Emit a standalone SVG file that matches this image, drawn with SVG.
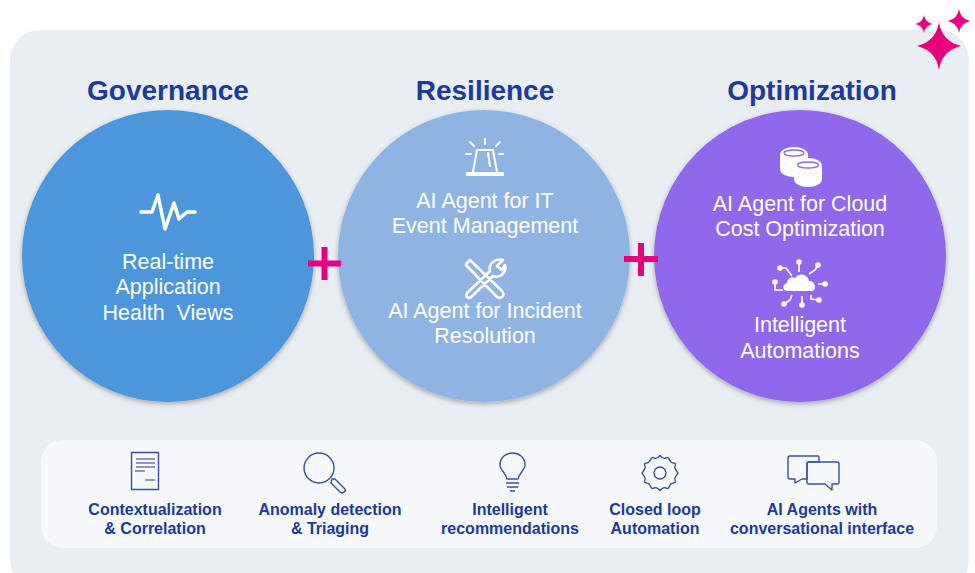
<svg xmlns="http://www.w3.org/2000/svg" width="975" height="573" viewBox="0 0 975 573">
<defs>
<style>
text{font-family:"Liberation Sans",Arial,sans-serif;text-anchor:middle}
.h{font-size:28px;font-weight:700;fill:#20399a}
.w{font-size:21.5px;fill:#fff}
.b{font-size:16px;font-weight:700;fill:#20399a}
.iw{fill:none;stroke:#fff;stroke-width:2.6;stroke-linecap:round;stroke-linejoin:round}
.ib{fill:none;stroke:#3550a8;stroke-width:1.4;stroke-linejoin:round}
.plus{fill:#e6007e}
</style>
<filter id="sh" x="-10%" y="-10%" width="120%" height="120%"><feDropShadow dx="0" dy="2" stdDeviation="2.5" flood-color="#000" flood-opacity=".3"/></filter>
<filter id="soft"><feGaussianBlur stdDeviation=".7"/></filter>
<path id="star" d="M0-1Q.13-.2 1 0Q.13.2 0 1Q-.13.2-1 0Q-.13-.2 0-1Z" fill="#e6007e"/>
</defs>
<rect width="975" height="573" fill="#fff"/>
<rect x="10" y="30" width="959" height="560" rx="30" fill="#e9eef3"/>
<g id="sparkles" filter="url(#soft)">
<use href="#star" transform="translate(939 46) scale(22 24)"/>
<use href="#star" transform="translate(924 24) scale(8.500 9)"/>
<use href="#star" transform="translate(959 21) scale(11 12)"/>
</g>
<g id="governance">
<text class="h" x="168" y="100">Governance</text>
<circle cx="168" cy="256" r="146" fill="#4d96db" filter="url(#sh)"/>
<path class="iw" style="stroke-width:3.5" d="M141 212H152L158 195L165 229L174 203L179 219L187 212H195"/>
<text class="w" x="168" y="269">Real-time</text>
<text class="w" x="168" y="294">Application</text>
<text class="w" x="168" y="320" xml:space="preserve">Health  Views</text>
</g>
<g id="resilience">
<text class="h" x="485" y="100">Resilience</text>
<circle cx="484" cy="256" r="146" fill="#8fb4e3" filter="url(#sh)"/>
<path class="iw" style="stroke-width:2" d="M473 172L477 150H493L497 172M467 173H503V175H467ZM485 139V144M470 142L474 146M500 142L496 146M466 154H471M499 154H503M488 153L490 166"/>
<text class="w" x="485" y="208">AI Agent for IT</text>
<text class="w" x="485" y="233">Event Management</text>
<path class="iw" d="M467 263L470 260L502 291Q505 295 502 297Q499 299 496 296L466 265ZM467 293L490 271C488 264 495 258 503 260L497 266L502 270L505 265C507 272 500 279 493 276L470 298Q465 298 467 293Z"/>
<text class="w" x="485" y="318">AI Agent for Incident</text>
<text class="w" x="485" y="343">Resolution</text>
</g>
<g id="optimization">
<text class="h" x="812" y="100">Optimization</text>
<circle cx="800" cy="256" r="146" fill="#9068ea" filter="url(#sh)"/>
<g fill="#fff">
<ellipse cx="794" cy="155" rx="14" ry="8"/><rect x="780" y="155" width="28" height="14"/><ellipse cx="794" cy="169" rx="14" ry="8"/>
<ellipse cx="808" cy="166" rx="14" ry="8"/><rect x="794" y="166" width="28" height="13"/><ellipse cx="808" cy="179" rx="14" ry="8"/>
</g>
<ellipse cx="794" cy="153" rx="10" ry="3" fill="none" stroke="#9068ea" stroke-width="1.3"/>
<ellipse cx="808" cy="165" rx="10.500" ry="3" fill="none" stroke="#9068ea" stroke-width="1.3"/>
<path d="M798 173H820M786 163H792" stroke="#b9a3f2" stroke-width="1" stroke-dasharray="1 5"/>
<text class="w" x="800" y="211">AI Agent for Cloud</text>
<text class="w" x="800" y="236">Cost Optimization</text>
<path d="M788 291C782 291 782 284 787 283C787 279 792 276 795 278C799 272 808 274 809 281C815 280 818 291 811 291Z" fill="#fff"/>
<g fill="none" stroke="#fff" stroke-width="1.7">
<path d="M799 262V272M780 268H786L792 276M818 265L815 270L809 274M775 282V290H783M818 284H825M784 304L790 300L792 295M802 296V305M811 295V299L819 300"/>
</g>
<g fill="#fff"><circle cx="799" cy="262" r="2.800"/><circle cx="780" cy="268" r="2.800"/><circle cx="818" cy="265" r="2.800"/><circle cx="775" cy="282" r="2.800"/><circle cx="825" cy="284" r="2.800"/><circle cx="784" cy="304" r="2.800"/><circle cx="802" cy="305" r="2.800"/><circle cx="819" cy="300" r="2.800"/></g>
<text class="w" x="800" y="332">Intelligent</text>
<text class="w" x="800" y="358">Automations</text>
</g>
<g id="connectors">
<rect class="plus" x="308" y="260.500" width="33" height="6"/><rect class="plus" x="321.500" y="247" width="6" height="33"/>
<rect class="plus" x="624" y="256" width="34" height="6"/><rect class="plus" x="638" y="243" width="6" height="33"/>
</g>
<g id="capabilities">
<rect x="41" y="440" width="896" height="108" rx="22" fill="#f6f8fb"/>
<g id="cap1"><rect x="131.500" y="452.500" width="27" height="37" class="ib"/>
<path d="M136 459H155M136 463H155M136 467H155M135 471H145M145 480H155" stroke="#1f3a93" stroke-width="1"/>
<text class="b" x="155" y="515">Contextualization</text><text class="b" x="155" y="534">&amp; Correlation</text></g>
<g id="cap2"><circle cx="319" cy="468" r="15" class="ib"/><path class="ib" d="M332 479L335 479L345 489Q346 491 344 492Q342 494 340 492L331 483Z"/>
<text class="b" x="330" y="515">Anomaly detection</text><text class="b" x="330" y="534">&amp; Triaging</text></g>
<g id="cap3"><path class="ib" d="M507 479C506 473 500 470 500 465C500 449 525 449 525 465C525 470 519 473 518 479Z"/><path class="ib" d="M506 483H519M507 487H518M510 491H515"/>
<text class="b" x="510" y="515">Intelligent</text><text class="b" x="510" y="534">recommendations</text></g>
<g id="cap4"><path class="ib" d="M660 455.500C662 458 664 459 666 458C669 456 669 460 671 462C673 464 677 462 675 466C674 468 676 470 678 473C676 476 674 478 675 480C677 484 673 482 671 484C669 486 669 490 666 488C664 487 662 488 660 490.500C658 488 656 487 654 488C651 490 651 486 649 484C647 482 643 484 645 480C646 478 644 476 642 473C644 470 646 468 645 466C643 462 647 464 649 462C651 460 651 456 654 458C656 459 658 458 660 455.500Z"/><circle cx="660" cy="473" r="6" class="ib"/>
<text class="b" x="655" y="515">Closed loop</text><text class="b" x="655" y="534">Automation</text></g>
<g id="cap5"><path class="ib" d="M790 456H818Q819 456 819 457V462H809Q807 462 807 464V479H802L795 483V479H790Q788 479 788 477V458Q788 456 790 456Z"/><path class="ib" d="M809 462H837Q839 462 839 464V482Q839 484 837 484H832V490L825 484H809Q807 484 807 482V464Q807 462 809 462Z"/>
<text class="b" x="822" y="515">AI Agents with</text><text class="b" x="822" y="534">conversational interface</text></g>
</g>
</svg>
